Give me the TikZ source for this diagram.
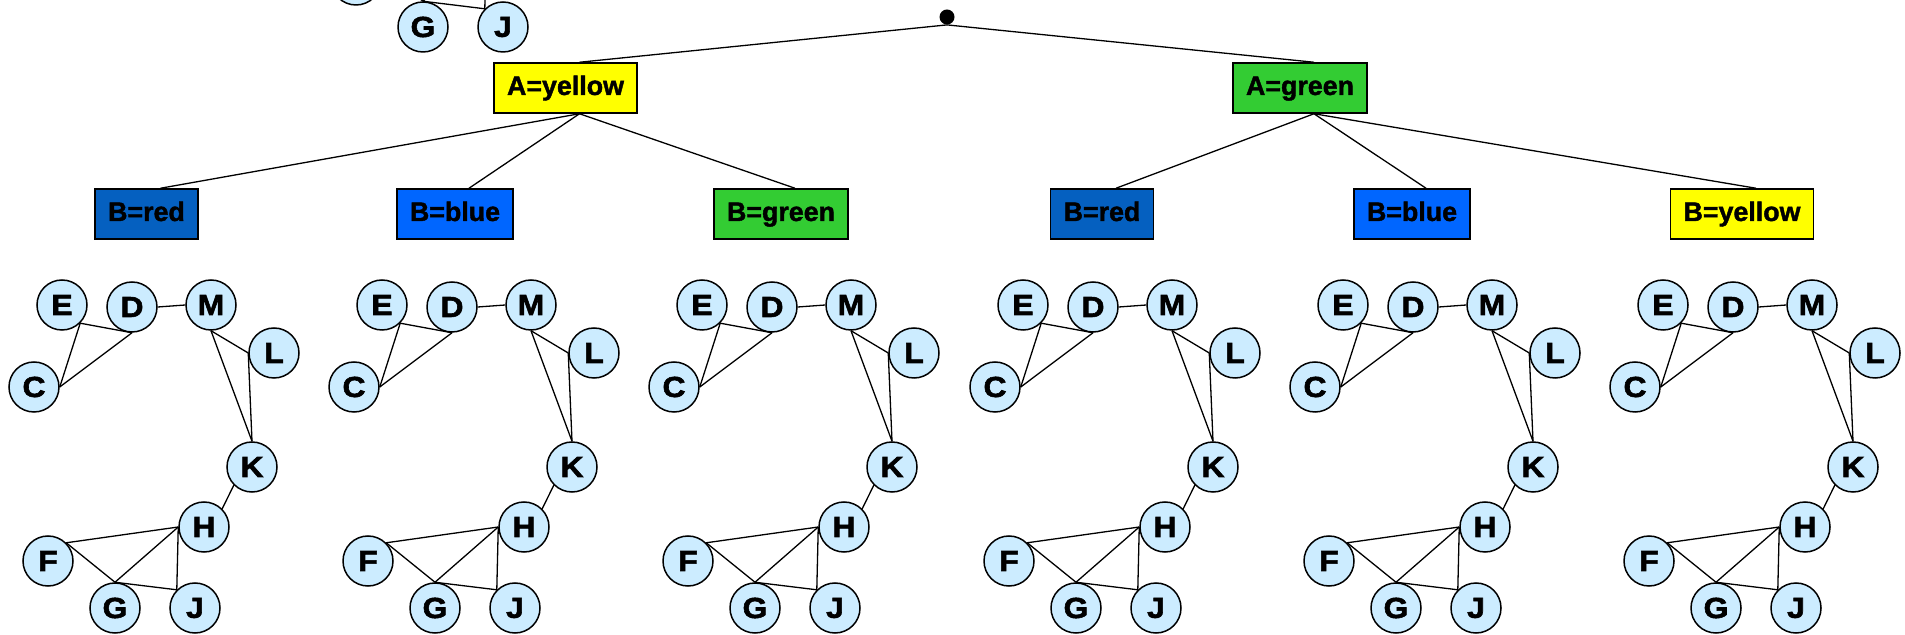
\documentclass[tikz,border=0pt]{standalone}
\usepackage{fontspec}
\setmainfont{Liberation Sans}
\newfontfamily\vertexfont[FakeStretch=1.1, FakeBold=2]{Liberation Sans}
\newfontfamily\choicefont[FakeBold=1.5]{Liberation Sans}
\usetikzlibrary{positioning}

\definecolor{nodeblue}{RGB}{204,236,255}
\definecolor{darkblue}{RGB}{5,96,192}
\definecolor{brightblue}{RGB}{0,102,255}
\definecolor{leafgreen}{RGB}{51,204,51}
\definecolor{brightyellow}{RGB}{255,255,0}

\tikzset{
	vertex/.style={circle, draw, line width=0.75pt, fill=nodeblue, minimum size=25pt,
		inner sep=0pt, font=\vertexfont\fontsize{14.5}{16}\selectfont\bfseries},
	choice/.style={rectangle, draw, line width=0.75pt, inner xsep=6.5pt, inner ysep=0pt,
		minimum height=25pt, text height=9.7pt, text depth=2.7pt,
		font=\choicefont\fontsize{13.4}{15}\selectfont\bfseries},
	link/.style={line width=0.65pt}
}

\begin{document}
\begin{tikzpicture}[x=0.5pt, y=-0.5pt]
		\useasboundingbox (0,0) rectangle (1905,635);
		\clip (0,0) rectangle (1905,635);
		% 搜索树
		\node[circle, fill, inner sep=0pt, minimum size=7.5pt] (root) at (947,17) {};
		\node[choice, fill=brightyellow] (Ay) at (565.5,88) {A=yellow};
		\node[choice, fill=leafgreen] (Ag) at (1300,88) {A=green};
		\node[choice, fill=darkblue] (Ay-r) at (146.5,214) {B=red};
		\node[choice, fill=brightblue] (Ay-b) at (455,214) {B=blue};
		\node[choice, fill=leafgreen] (Ay-g) at (781,214) {B=green};
		\node[choice, fill=darkblue] (Ag-r) at (1102,214) {B=red};
		\node[choice, fill=brightblue] (Ag-b) at (1412,214) {B=blue};
		\node[choice, fill=brightyellow] (Ag-y) at (1742,214) {B=yellow};
		\draw[link] (root.south) -- ([xshift=7pt]Ay.north);
		\draw[link] (root.south) -- ([xshift=7pt]Ag.north);
		\foreach \b in {r,b,g}
			\draw[link] ([xshift=7pt]Ay.south) -- ([xshift=7pt]Ay-\b.north);
		\foreach \b in {r,b,y}
			\draw[link] ([xshift=7pt]Ag.south) -- ([xshift=7pt]Ag-\b.north);
		% 约束图，每个分支下一份
		\foreach \k/\dx/\dy in {a/0/0, b/320/0, c/640/0, d/961/0, e/1281/0, f/1601/0, z/308/-581} {
			\begin{scope}[shift={(\dx,\dy)}]
				\node[vertex] (E\k) at (62,305) {E};
				\node[vertex] (D\k) at (132,307) {D};
				\node[vertex] (M\k) at (211,305) {M};
				\node[vertex] (L\k) at (274,353) {L};
				\node[vertex] (C\k) at (34,387) {C};
				\node[vertex] (K\k) at (252,467) {K};
				\node[vertex] (H\k) at (204,527) {H};
				\node[vertex] (F\k) at (48,561) {F};
				\node[vertex] (G\k) at (115,608) {G};
				\node[vertex] (J\k) at (195,608) {J};
				\draw[link] (E\k.-45) -- (C\k.east);
				\draw[link] (E\k.-45) -- (D\k.south);
				\draw[link] (C\k.east) -- (D\k.south);
				\draw[link] (D\k.east) -- (M\k.west);
				\draw[link] (M\k.south) -- (L\k.west);
				\draw[link] (M\k.south) -- (K\k.north);
				\draw[link] (L\k.west) -- (K\k.north);
				\draw[link] (K\k.-135) -- (H\k.45);
				\draw[link] (H\k.west) -- (F\k.45);
				\draw[link] (H\k.west) -- (G\k.north);
				\draw[link] (H\k.west) -- (J\k.135);
				\draw[link] (F\k.45) -- (G\k.north);
				\draw[link] (G\k.north) -- (J\k.135);
			\end{scope}
		}
	\end{tikzpicture}
\end{document}
